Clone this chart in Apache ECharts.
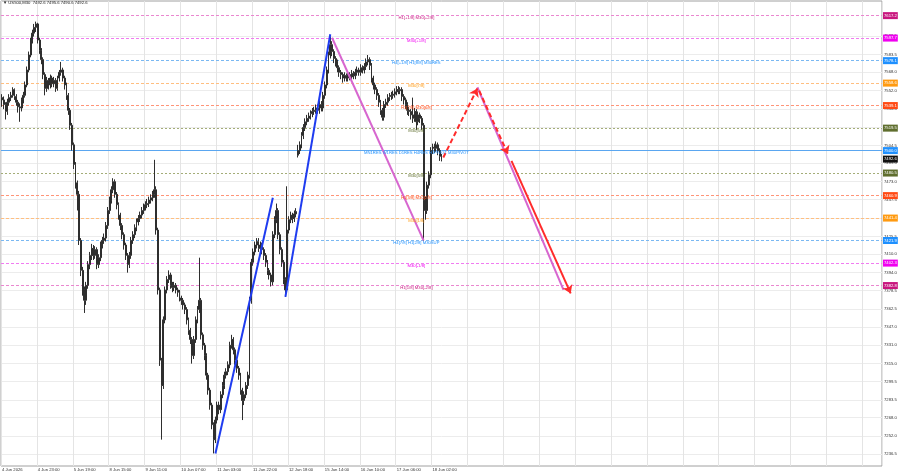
<!DOCTYPE html>
<html><head><meta charset="utf-8">
<script src="https://cdn.jsdelivr.net/npm/echarts@6/dist/echarts.min.js"></script>
<style>html,body{margin:0;padding:0;background:#fff}#chart{width:900px;height:474px}</style>
</head><body><div id="chart"></div>
<script>
// ---------- DATA ----------
const chartTitle = '\u25BC US500,M30  7492.6 7495.6 7490.6 7492.6';
const xTickLabels = ['4 Jun 2026','4 Jun 23:00','5 Jun 19:00','8 Jun 15:00','9 Jun 11:00','10 Jun 07:00','11 Jun 03:00','11 Jun 22:00','12 Jun 18:00','15 Jun 14:00','16 Jun 10:00','17 Jun 06:00','18 Jun 02:00'];
const yTickValues = [7236.5,7252.0,7268.0,7283.5,7299.5,7315.0,7331.0,7347.0,7362.5,7378.5,7394.0,7410.0,7425.5,7441.5,7457.5,7473.0,7489.0,7504.5,7520.5,7536.0,7552.0,7568.0,7583.5,7599.5];
const priceMin = 7226.1, priceMax = 7629.9;
// hourly bars: [open, close, low, high]
const bars = [
[7546,7544,7538,7549],[7544,7540,7536,7547],[7540,7534,7527,7542],[7534,7542,7531,7545],[7542,7546,7539,7549],
[7546,7548,7543,7551],[7548,7553,7546,7555],[7553,7547,7544,7554],[7547,7542,7539,7549],[7542,7538,7533,7544],
[7538,7537,7525,7541],[7537,7544,7534,7546],[7544,7548,7541,7551],[7548,7557,7546,7560],[7557,7570,7555,7573],
[7570,7583,7568,7586],[7583,7596,7581,7598],[7596,7602,7593,7605],[7602,7607,7599,7610],[7607,7610,7603,7612],
[7610,7596,7593,7611],[7596,7587,7584,7598],[7587,7579,7575,7589],[7579,7566,7562,7581],[7566,7554,7548,7568],
[7554,7561,7551,7564],[7561,7557,7553,7563],[7557,7563,7554,7566],[7563,7558,7555,7565],[7558,7561,7555,7564],
[7561,7554,7551,7563],[7554,7563,7552,7565],[7563,7568,7560,7570],[7568,7570,7565,7577],[7570,7563,7560,7572],
[7563,7557,7553,7565],[7557,7548,7544,7559],[7548,7535,7531,7550],[7535,7522,7518,7537],[7522,7505,7500,7524],
[7505,7488,7484,7507],[7488,7472,7467,7490],[7472,7462,7448,7474],[7462,7422,7418,7465],[7422,7396,7391,7424],
[7396,7379,7374,7399],[7379,7370,7359,7382],[7370,7383,7366,7386],[7383,7401,7380,7404],[7401,7409,7397,7412],
[7409,7415,7405,7419],[7415,7409,7405,7418],[7409,7414,7406,7417],[7414,7401,7397,7416],[7401,7407,7398,7410],
[7407,7418,7404,7421],[7418,7422,7415,7425],[7422,7424,7419,7428],[7424,7435,7421,7438],[7435,7448,7432,7451],
[7448,7457,7445,7460],[7457,7466,7454,7469],[7466,7473,7463,7476],[7473,7462,7459,7475],[7462,7453,7449,7464],
[7453,7444,7440,7455],[7444,7435,7431,7446],[7435,7427,7423,7437],[7427,7418,7414,7429],[7418,7409,7405,7420],
[7409,7401,7394,7411],[7401,7409,7398,7412],[7409,7422,7406,7425],[7422,7427,7419,7430],[7427,7433,7424,7436],
[7433,7438,7430,7441],[7438,7441,7435,7444],[7441,7444,7438,7447],[7444,7448,7441,7451],[7448,7451,7445,7454],
[7451,7453,7448,7456],[7453,7454,7450,7458],[7454,7457,7451,7460],[7457,7459,7454,7462],[7459,7462,7456,7465],
[7462,7466,7459,7492],[7466,7431,7427,7469],[7431,7379,7375,7433],[7379,7318,7313,7381],[7318,7296,7249,7320],
[7296,7353,7293,7356],[7353,7379,7350,7382],[7379,7388,7376,7391],[7388,7392,7385,7396],[7392,7383,7380,7394],
[7383,7381,7377,7386],[7381,7383,7378,7386],[7383,7379,7376,7385],[7379,7377,7373,7381],[7377,7372,7369,7379],
[7372,7370,7366,7374],[7370,7366,7362,7372],[7366,7362,7358,7368],[7362,7353,7349,7364],[7353,7344,7340,7355],
[7344,7336,7332,7346],[7336,7322,7315,7338],[7322,7336,7319,7339],[7336,7353,7333,7356],[7353,7362,7350,7365],
[7362,7370,7359,7407],[7370,7340,7336,7372],[7340,7331,7327,7342],[7331,7322,7318,7333],[7322,7305,7301,7324],
[7305,7292,7288,7307],[7292,7279,7275,7294],[7279,7262,7258,7281],[7262,7249,7237,7264],[7249,7266,7246,7269],
[7266,7279,7263,7282],[7279,7275,7271,7282],[7275,7288,7272,7291],[7288,7296,7285,7299],[7296,7305,7293,7308],
[7305,7308,7302,7311],[7308,7314,7305,7317],[7314,7331,7311,7334],[7331,7336,7328,7340],[7336,7327,7323,7338],
[7327,7318,7314,7329],[7318,7311,7307,7320],[7311,7305,7301,7313],[7305,7292,7288,7307],[7292,7283,7266,7294],
[7283,7288,7279,7291],[7288,7296,7285,7299],[7296,7305,7293,7308],[7305,7370,7302,7373],[7370,7403,7367,7406],
[7403,7412,7400,7415],[7412,7418,7409,7421],[7418,7421,7415,7424],[7421,7415,7412,7424],[7415,7418,7412,7421],
[7418,7414,7410,7420],[7414,7409,7405,7416],[7409,7403,7399,7411],[7403,7396,7392,7405],[7396,7392,7388,7398],
[7392,7386,7382,7394],[7386,7427,7383,7430],[7427,7440,7424,7443],[7440,7448,7437,7454],[7448,7427,7423,7450],
[7427,7414,7410,7429],[7414,7403,7399,7416],[7403,7388,7384,7405],[7388,7379,7373,7390],[7379,7431,7376,7469],
[7431,7440,7428,7443],[7440,7444,7437,7447],[7444,7441,7437,7446],[7441,7445,7438,7448],[7445,7447,7442,7450],
[7496,7500,7494,7505],[7500,7505,7497,7508],[7505,7513,7502,7516],[7513,7520,7510,7523],[7520,7525,7517,7528],
[7525,7528,7522,7531],[7528,7530,7525,7533],[7530,7532,7527,7535],[7532,7534,7529,7537],[7534,7535,7531,7538],
[7535,7537,7532,7540],[7537,7535,7532,7540],[7535,7540,7532,7543],[7540,7537,7534,7543],[7537,7548,7534,7551],
[7548,7557,7545,7560],[7557,7570,7554,7573],[7570,7583,7567,7586],[7583,7592,7580,7599],[7592,7586,7582,7595],
[7586,7580,7576,7588],[7580,7577,7573,7582],[7577,7572,7568,7579],[7572,7568,7564,7574],[7568,7566,7562,7570],
[7566,7563,7559,7568],[7563,7565,7560,7568],[7565,7563,7560,7567],[7563,7566,7560,7569],[7566,7564,7561,7568],
[7564,7567,7561,7570],[7567,7565,7562,7569],[7565,7568,7562,7571],[7568,7570,7565,7573],[7570,7568,7565,7572],
[7568,7572,7565,7575],[7572,7570,7567,7574],[7570,7573,7567,7576],[7573,7577,7570,7580],[7577,7579,7574,7583],
[7579,7574,7570,7581],[7574,7563,7559,7576],[7563,7557,7553,7565],[7557,7553,7549,7559],[7553,7548,7544,7555],
[7548,7542,7538,7550],[7542,7535,7531,7544],[7535,7529,7526,7537],[7529,7540,7526,7543],[7540,7542,7537,7545],
[7542,7546,7539,7549],[7546,7547,7543,7550],[7547,7548,7544,7551],[7548,7549,7545,7552],[7549,7551,7546,7554],
[7551,7553,7548,7556],[7553,7552,7549,7556],[7552,7553,7549,7555],[7553,7547,7543,7555],[7547,7544,7540,7549],
[7544,7540,7536,7546],[7540,7535,7531,7542],[7535,7534,7530,7538],[7534,7531,7527,7536],[7531,7528,7524,7546],
[7528,7534,7525,7537],[7534,7525,7518,7536],[7525,7531,7522,7534],[7531,7528,7524,7533],[7528,7522,7518,7530],
[7522,7457,7422,7524],[7457,7448,7440,7460],[7448,7470,7445,7473],[7470,7479,7467,7482],[7479,7500,7476,7503],
[7500,7503,7497,7506],[7503,7502,7498,7506],[7502,7505,7499,7508],[7505,7500,7496,7507],[7500,7495,7491,7502],
[7495,7492.6,7490.6,7497]
];
// Murrey math levels
const levelPrices = [7617.2,7597.7,7578.1,7558.6,7539.1,7519.5,7500.0,7480.5,7460.9,7441.4,7421.9,7402.3,7382.8];
const levelNames = ['H1[+1/8] M30[+2/8]','M30[+1/8]','H4[+1/8] H1[8/8] M30RES','M30[7/8]','H1[7/8] M30[6/8]','M30[5/8]',
  'MN1RES W1RES D1RES H4RES H1PIVOT M30PIVOT','M30[3/8]','H1[3/8] M30[2/8]','M30[1/8]','H4[7/8] H1[2/8] M30SUP','M30[-1/8]','H1[1/8] M30[-2/8]'];
const currentPrice = 7492.6;
// wave lines: [[barIndex, price],[barIndex, price]]
const blueWave1 = [[119,7237],[151,7459]];
const blueWave2 = [[158,7373],[183,7601]];
const violetWave1 = [[184,7598],[235,7422]];
const violetWave2 = [[265,7555],[313,7379]];
const redForecast1 = [[246,7494],[265,7554]];
const redForecast2 = [[266,7552],[282,7497]];
const redForecast3 = [[284,7491],[317,7376]];

// ---------- LAYOUT / STYLE ----------
const categoryCount = 491;
const barsPerLabel = 20;
const levelLabelIdx = 231;
const FS = 4.2;
const FONT = '"Liberation Sans", Arial, "DejaVu Sans", sans-serif';
const levelTagColors = ['#c8177e','#f000f0','#1e90ff','#ff9a10','#ff4a14','#5f6e2e','#1e90ff','#5f6e2e','#ff4a14','#ff9a10','#1e90ff','#f000f0','#c8177e'];
const levelLineColors = ['#ea86d0','#f07cf0','#7ab8f2','#ffbe80','#ff9478','#a4ad78','#5aa6f0','#a4ad78','#ff9478','#ffbe80','#7ab8f2','#f07cf0','#ea86d0'];
const levelDash = [[3,2],[3,2],[3,2],[3,2],[3,2],[2,2],'solid',[2,2],[3,2],[3,2],[3,2],[3,2],[3,2]];

const categories = Array.from({length: categoryCount}, (_, i) => 'b' + i);
const isLabelIdx = (i) => i % barsPerLabel === 0;

function segment(pts, color, dashed, arrow) {
  return [
    {coord: pts[0], symbol: 'none', lineStyle: {color: color, width: 2, type: dashed ? [5,3] : 'solid'}},
    {coord: pts[1], symbol: arrow ? 'arrow' : 'none', symbolSize: 8}
  ];
}

const tagLabel = (txt, bg) => ({
  show: true, position: 'end', distance: 1, formatter: txt, opacity: 1,
  backgroundColor: bg, color: '#fff', fontSize: FS, fontFamily: FONT, lineHeight: 5, padding: [1, 1, 1, 1]
});

const levelLines = levelPrices.map((p, k) => ({
  yAxis: p,
  lineStyle: {color: levelLineColors[k], opacity: 1, width: 1, type: levelDash[k]},
  label: tagLabel(p.toFixed(1), levelTagColors[k])
}));
levelLines.push({yAxis: currentPrice, lineStyle: {color: 'rgba(0,0,0,0)', opacity: 1}, label: tagLabel(currentPrice.toFixed(1), '#111111')});

const levelTexts = levelPrices.map((p, k) => ({
  name: levelNames[k], coord: [levelLabelIdx, p],
  label: {color: levelTagColors[k]}
}));

const chart = echarts.init(document.getElementById('chart'), null, {renderer: 'canvas'});
chart.setOption({
  animation: false,
  backgroundColor: '#ffffff',
  textStyle: {fontFamily: FONT},
  title: {text: chartTitle, left: 3, top: 1, padding: 0,
    textStyle: {fontSize: FS, fontWeight: 'normal', color: '#222', fontFamily: FONT}},
  grid: {left: 1, right: 18, top: 1, bottom: 8, show: true, borderColor: '#a0a0a0', borderWidth: 1,
    backgroundColor: 'transparent', containLabel: false, outerBoundsMode: 'none'},
  xAxis: {
    type: 'category', data: categories, boundaryGap: true,
    axisLine: {show: false}, axisTick: {show: false},
    axisLabel: {interval: (i) => isLabelIdx(i), align: 'left', margin: 2, fontSize: FS, color: '#333', fontFamily: FONT,
      formatter: (v, i) => isLabelIdx(i) ? (xTickLabels[i / barsPerLabel] || '') : ''},
    splitLine: {show: true, interval: (i) => isLabelIdx(i), lineStyle: {color: '#e4e4e4', width: 1}}
  },
  yAxis: {
    type: 'value', position: 'right', min: priceMin, max: priceMax, scale: true,
    axisLine: {show: false},
    axisTick: {show: false, customValues: yTickValues},
    axisLabel: {customValues: yTickValues, margin: 2, fontSize: FS, color: '#333', fontFamily: FONT,
      formatter: (v) => v.toFixed(1)},
    splitLine: {show: true, lineStyle: {color: '#ececec', width: 1}}
  },
  series: [
    {
      name: 'levels', type: 'line', data: [], silent: true, z: 1,
      markLine: {silent: true, animation: false, symbol: ['none', 'none'], z: 1, data: levelLines}
    },
    {
      name: 'US500,M30', type: 'candlestick', data: bars, barWidth: 1.4, z: 2,
      itemStyle: {color: '#2e2e2e', color0: '#2e2e2e', borderColor: '#2e2e2e', borderColor0: '#2e2e2e', borderWidth: 1}
    },
    {
      name: 'waves', type: 'line', data: [], silent: true, z: 3,
      markLine: {silent: true, animation: false, z: 3, symbolSize: 8, label: {show: false},
        data: [
          segment(blueWave1, '#1f3cf0', false, false),
          segment(blueWave2, '#1f3cf0', false, false),
          segment(violetWave1, '#d766cf', false, false),
          segment(violetWave2, '#d766cf', false, false),
          segment(redForecast1, '#ff2b2b', true, true),
          segment(redForecast2, '#ff2b2b', true, true),
          segment(redForecast3, '#ff2b2b', false, true)
        ]}
    },
    {
      name: 'levelText', type: 'line', data: [], silent: true, z: 6,
      markPoint: {silent: true, animation: false, symbol: 'rect', symbolSize: 0, z: 6,
        label: {show: true, position: 'inside', offset: [0, 2.5], fontSize: FS, fontFamily: FONT, formatter: (p) => p.name},
        data: levelTexts}
    }
  ]
});
</script>
</body></html>
